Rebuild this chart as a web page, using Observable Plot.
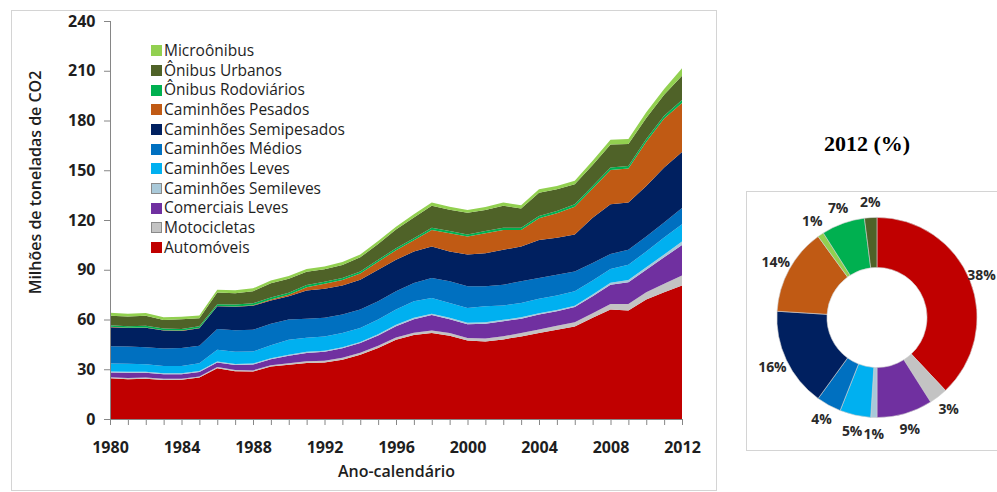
<!DOCTYPE html>
<html>
<head>
<meta charset="utf-8">
<script src="https://cdn.jsdelivr.net/npm/d3@7"></script>
<script src="https://cdn.jsdelivr.net/npm/@observablehq/plot@0.6"></script>
<style>
  body { margin: 0; background: #fff; font-family: "Open Sans", sans-serif; }
  #wrap { position: relative; width: 997px; height: 492px; overflow: hidden; background: #fff; }
  .panel { position: absolute; border: 1px solid #d4d4d4; box-sizing: border-box; }
  #area { position: absolute; left: 0; top: 0; }
  #donut { position: absolute; left: 746px; top: 191px; }
  #legend { position: absolute; left: 151px; top: 41px; font-family: "Open Sans", sans-serif; font-size: 15.5px; line-height: 19.66px; color: #1e1e1e; }
  .row { display: flex; align-items: center; height: 19.66px; line-height: 19.66px; white-space: nowrap; }
  .sw { width: 11px; height: 11px; margin-right: 2px; box-sizing: border-box; flex: none; }
  #title { position: absolute; left: 807px; width: 120px; top: 133px; text-align: center;
           font-family: "Liberation Serif", "Times New Roman", serif; font-weight: bold; font-size: 22px; line-height: 22px; color: #000; }
</style>
</head>
<body>
<div id="wrap">
  <div class="panel" style="left:11px;top:10px;width:706px;height:481px"></div>
  <div id="area"></div>
  <div id="legend"></div>
  <div id="title">2012 (%)</div>
  <div class="panel" style="left:746px;top:191px;width:252px;height:260px"></div>
  <div id="donut"></div>
</div>
<script>
// ---------- Data (millions of tonnes CO2) ----------
const years = [1980,1981,1982,1983,1984,1985,1986,1987,1988,1989,1990,1991,1992,1993,1994,1995,1996,1997,1998,1999,2000,2001,2002,2003,2004,2005,2006,2007,2008,2009,2010,2011,2012];

const automoveis   = [24.5,24.0,24.3,23.5,23.6,25.0,30.6,28.8,28.6,31.6,32.7,33.7,34.0,35.7,38.7,42.8,47.8,50.6,51.8,50.2,47.4,46.8,48.0,49.8,51.8,53.8,55.8,61.0,66.0,65.5,72.0,76.5,80.5];
const motocicletas = [0.7,0.7,0.7,0.7,0.7,0.7,0.7,0.7,0.7,0.8,0.9,1.1,1.2,1.3,1.3,1.4,1.4,1.4,1.5,1.6,1.5,1.8,1.9,2.0,2.2,2.4,2.6,2.8,3.3,3.8,4.5,5.0,6.0];
const comerciaisLeves = [2.8,3.2,2.9,2.8,2.7,2.7,2.7,3.0,3.5,3.6,4.5,5.0,5.3,5.6,5.8,6.2,6.8,8.2,9.4,8.4,8.3,8.9,9.1,8.7,9.0,8.8,9.1,10.2,11.7,13.2,13.5,16.0,18.5];
const caminhoesSemileves = [0.6,0.6,0.6,0.6,0.6,0.6,0.7,0.7,0.7,0.7,0.7,0.7,0.7,0.7,0.7,0.7,0.8,0.8,0.8,0.8,0.8,0.8,0.8,0.8,0.8,0.8,0.8,1.1,1.2,1.3,1.5,1.7,2.0];
const caminhoesLeves = [4.8,4.8,4.5,4.4,4.4,4.6,7.0,7.3,7.2,7.8,9.0,8.5,8.6,8.5,8.4,8.9,9.2,10.0,9.5,9.0,9.0,9.7,8.6,8.7,8.7,8.7,8.7,8.4,8.3,9.2,9.5,10.3,10.5];
const caminhoesMedios = [10.4,10.4,10.3,10.5,10.8,10.6,12.6,13.0,13.1,13.0,12.2,11.5,11.2,11.2,11.1,11.0,11.0,11.0,12.0,13.0,13.0,12.0,12.6,13.0,12.5,12.5,12.0,10.5,9.0,9.0,9.0,9.0,9.8];
const caminhoesSemipesados = [11.6,11.1,11.7,10.8,10.3,10.5,13.7,14.2,14.5,14.0,14.0,17.0,17.5,17.5,18.0,19.0,19.0,19.0,19.0,18.0,19.2,20.0,21.0,21.0,23.0,22.3,22.3,27.4,30.0,28.5,30.5,33.2,33.7];
const caminhoesPesados = [0.2,0.2,0.2,0.2,0.2,0.2,0.2,0.2,0.3,0.5,1.0,2.0,3.0,3.3,3.8,4.8,5.8,6.8,10.0,11.0,10.8,12.0,12.0,10.0,13.0,14.7,16.7,17.6,20.7,20.5,26.7,29.5,29.5];
const onibusRodoviarios = [1.0,1.0,1.0,1.0,1.0,1.0,1.0,1.1,1.2,1.2,1.2,1.3,1.3,1.2,1.2,1.2,1.2,1.2,1.4,1.3,1.3,1.3,1.4,1.4,1.4,1.4,1.5,1.5,1.5,1.6,1.6,1.7,1.8];
const onibusUrbanos = [5.7,5.8,6.0,5.2,5.8,4.9,7.1,6.9,7.3,8.6,8.4,8.0,7.5,7.9,8.5,9.5,11.2,12.5,13.2,12.9,13.0,12.7,13.2,11.6,14.1,13.1,12.0,12.7,13.8,13.2,12.7,12.6,14.7];
const microonibus = [1.7,1.7,1.7,1.6,1.6,1.6,1.7,1.7,1.7,1.7,1.7,1.7,1.7,1.7,1.7,1.8,1.8,1.9,1.9,1.8,1.7,1.8,1.9,1.9,2.0,2.0,2.1,2.5,2.9,3.0,3.5,3.5,4.5];

// stacking order, bottom to top
const seriesNames = ["Automóveis","Motocicletas","Comerciais Leves","Caminhões Semileves","Caminhões Leves","Caminhões Médios","Caminhões Semipesados","Caminhões Pesados","Ônibus Rodoviários","Ônibus Urbanos","Microônibus"];
const seriesValues = [automoveis, motocicletas, comerciaisLeves, caminhoesSemileves, caminhoesLeves, caminhoesMedios, caminhoesSemipesados, caminhoesPesados, onibusRodoviarios, onibusUrbanos, microonibus];
const seriesColors = ["#c00000","#c3c3c3","#7030a0","#a9c9d9","#00b0f0","#0070c0","#002060","#c05a14","#00b050","#4f6228","#92d050"];

const yTicks = [0,30,60,90,120,150,180,210,240];
const xLabelYears = [1980,1984,1988,1992,1996,2000,2004,2008,2012];

// donut 2012 (%), clockwise from top
const donutLabels = [38,3,9,1,5,4,16,14,1,7,2];
const donutColors = ["#c00000","#c3c3c3","#7030a0","#a9c9d9","#00b0f0","#0070c0","#002060","#c05a14","#92d050","#00b050","#4f6228"];

// ---------- Stacked area ----------
const rows = [];
seriesNames.forEach((name, s) => {
  years.forEach((yr, i) => rows.push({year: yr, serie: name, value: seriesValues[s][i]}));
});

const axisGray = "#868686";
const textColor = "#1e1e1e";

const areaPlot = Plot.plot({
  width: 720,
  height: 492,
  marginLeft: 110,
  marginRight: 38,
  marginTop: 21,
  marginBottom: 73,
  x: {domain: [1980, 2012]},
  y: {domain: [0, 240]},
  color: {domain: seriesNames, range: seriesColors},
  style: {fontFamily: "'Open Sans', sans-serif", background: "transparent", overflow: "visible"},
  marks: [
    Plot.areaY(rows, {x: "year", y: "value", z: "serie", fill: "serie", order: seriesNames}),
    Plot.ruleX([1980], {stroke: axisGray}),
    Plot.ruleY([0], {stroke: axisGray}),
    Plot.axisY({ticks: yTicks, tickSize: 6, tickPadding: 9, tickFormat: d => String(d), label: null,
                stroke: axisGray, fill: textColor, fontSize: 16, fontWeight: "bold"}),
    Plot.axisX({ticks: years, tickSize: 6, tickFormat: () => "", label: null, stroke: axisGray}),
    Plot.axisX({ticks: xLabelYears, tickSize: 0, tickPadding: 22, tickFormat: d => String(d), label: null,
                fill: textColor, fontSize: 16, fontWeight: "bold"}),
    Plot.text(["Milhões de toneladas de CO2"], {text: d => d, frameAnchor: "left", textAnchor: "middle", rotate: -90, dx: -75, dy: -38,
                fontSize: 16, fontWeight: 600, fill: textColor}),
    Plot.text(["Ano-calendário"], {text: d => d, frameAnchor: "bottom", textAnchor: "middle", dy: 57, fontSize: 16, fontWeight: 600, fill: textColor})
  ]
});
document.getElementById("area").appendChild(areaPlot);

// legend (top to bottom = reverse stacking order)
const legend = document.getElementById("legend");
seriesNames.slice().reverse().forEach(name => {
  const i = seriesNames.indexOf(name);
  const row = document.createElement("div");
  row.className = "row";
  const sw = document.createElement("span");
  sw.className = "sw";
  sw.style.background = seriesColors[i];
  if (name === "Motocicletas" || name === "Caminhões Semileves") sw.style.border = "1px solid #8a8a8a";
  const t = document.createElement("span");
  t.textContent = name;
  row.appendChild(sw); row.appendChild(t);
  legend.appendChild(row);
});

// ---------- Donut ----------
const donutData = donutLabels.map((p, i) => ({pct: p, color: donutColors[i]}));
const pieArcs = d3.pie().sort(null).value(d => d.pct)(donutData);
pieArcs.forEach(a => { a.data.mid = (a.startAngle + a.endAngle) / 2; });
const innerRatio = 0.5;
const labelR = 1.16;

function donutMark(...args) {
  const scales = args.find(a => a && typeof a === "object" && !ArrayBuffer.isView(a) && !Array.isArray(a) && typeof a.x === "function");
  const cx = scales ? scales.x(0) : 131.5;
  const cy = scales ? scales.y(0) : 127;
  const R = scales ? scales.x(1) - cx : 100.5;
  const arc = d3.arc().innerRadius(R * innerRatio).outerRadius(R);
  const g = d3.create("svg:g").attr("transform", `translate(${cx},${cy})`);
  g.selectAll("path").data(pieArcs).join("path")
    .attr("d", arc)
    .attr("fill", d => d.data.color)
    .attr("stroke", "#cfcfcf")
    .attr("stroke-width", 0.6);
  return g.node();
}

const donutPlot = Plot.plot({
  width: 252,
  height: 260,
  margin: 0,
  x: {domain: [-1, 1], range: [31, 232], axis: null},
  y: {domain: [-1, 1], range: [227.5, 26.5], axis: null},
  style: {fontFamily: "'Open Sans', sans-serif", background: "transparent", overflow: "visible"},
  marks: [
    donutMark,
    Plot.text(donutData, {
      x: d => Math.min(labelR * Math.sin(d.mid), 1.04),
      y: d => labelR * Math.cos(d.mid),
      text: d => d.pct + "%",
      fontSize: 14, fontWeight: "bold", fill: "#2a2a2a"
    })
  ]
});
document.getElementById("donut").appendChild(donutPlot);
</script>
</body>
</html>
